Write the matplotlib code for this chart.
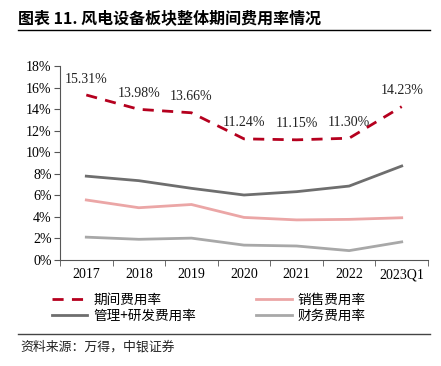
import matplotlib
matplotlib.use("Agg")
import matplotlib.pyplot as plt
from matplotlib.lines import Line2D
import numpy as np

plt.rcParams['font.family'] = ['Liberation Serif', 'Noto Sans CJK SC']

categories = ['2017', '2018', '2019', '2020', '2021', '2022', '2023Q1']
period_rate = [15.31, 13.98, 13.66, 11.24, 11.15, 11.30, 14.23]
sales_rate = [5.57, 4.85, 5.15, 3.95, 3.72, 3.77, 3.92]
admin_rd_rate = [7.78, 7.36, 6.65, 6.03, 6.34, 6.86, 8.72]
finance_rate = [2.12, 1.92, 2.03, 1.38, 1.30, 0.87, 1.68]
yticks = list(range(0, 20, 2))

W, H = 441, 366
fig = plt.figure(figsize=(W / 100, H / 100), dpi=100)
ax = fig.add_axes([60 / W, 1 - 260 / H, (428 - 60) / W, (260 - 66) / H])

x = np.arange(len(categories))
c_period = '#B5001E'
c_admin = '#6E6E6E'
c_sales = '#EBA6A6'
c_fin = '#A8A8A8'

ax.plot(x, period_rate, color=c_period, lw=2, ls=(0, (4, 3)), label='期间费用率')
ax.plot(x, admin_rd_rate, color=c_admin, lw=2, label='管理+研发费用率')
ax.plot(x, sales_rate, color=c_sales, lw=2, label='销售费用率')
ax.plot(x, finance_rate, color=c_fin, lw=2, label='财务费用率')

for xi, v in zip(x, period_rate):
    ax.annotate(f'{v:.2f}%', (xi, v), xytext=(0, 11.5), textcoords='offset points',
                ha='center', va='center', fontsize=10, color='#222222')

ax.set_xlim(-0.5, len(categories) - 0.5)
ax.set_ylim(0, 18)
ax.set_xticks(x)
ax.set_xticklabels(categories, fontsize=10)
ax.set_xticks(np.arange(-0.5, len(categories)), minor=True)
ax.tick_params(axis='x', which='major', length=0, pad=6)
ax.tick_params(axis='x', which='minor', length=4, direction='out', color='#555555')
ax.set_yticks(yticks)
ax.set_yticklabels([f'{t}%' for t in yticks], fontsize=10)
ax.tick_params(axis='y', length=4, direction='out', color='#555555', pad=2)
for s in ['top', 'right']:
    ax.spines[s].set_visible(False)
for s in ['left', 'bottom']:
    ax.spines[s].set_color('#555555')
    ax.spines[s].set_linewidth(0.8)

handles, labels = ax.get_legend_handles_labels()
fig.legend(handles, labels,
           loc='upper left', bbox_to_anchor=(52 / W, 1 - 293 / H), ncol=2,
           frameon=False, handlelength=2.6, handletextpad=0.45, borderpad=0,
           borderaxespad=0, columnspacing=4.4, labelspacing=0.12,
           prop={'family': ['Noto Sans CJK SC'], 'size': 9.8})

fig.text(18 / W, 1 - 18 / H, '图表 11. 风电设备板块整体期间费用率情况', fontsize=11.5,
         fontweight='bold', ha='left', va='center', family=['Noto Sans CJK SC'])
fig.add_artist(Line2D([18 / W, 430 / W], [1 - 30 / H, 1 - 30 / H], color='black', lw=1))
fig.add_artist(Line2D([18 / W, 430 / W], [1 - 334 / H, 1 - 334 / H], color='#444444', lw=1))
fig.text(20 / W, 1 - 347 / H, '资料来源：万得，中银证券', fontsize=9.3, ha='left', va='center',
         family=['Noto Sans CJK SC'], style='italic', color='#222222')

fig.savefig('out.png', dpi=100)
